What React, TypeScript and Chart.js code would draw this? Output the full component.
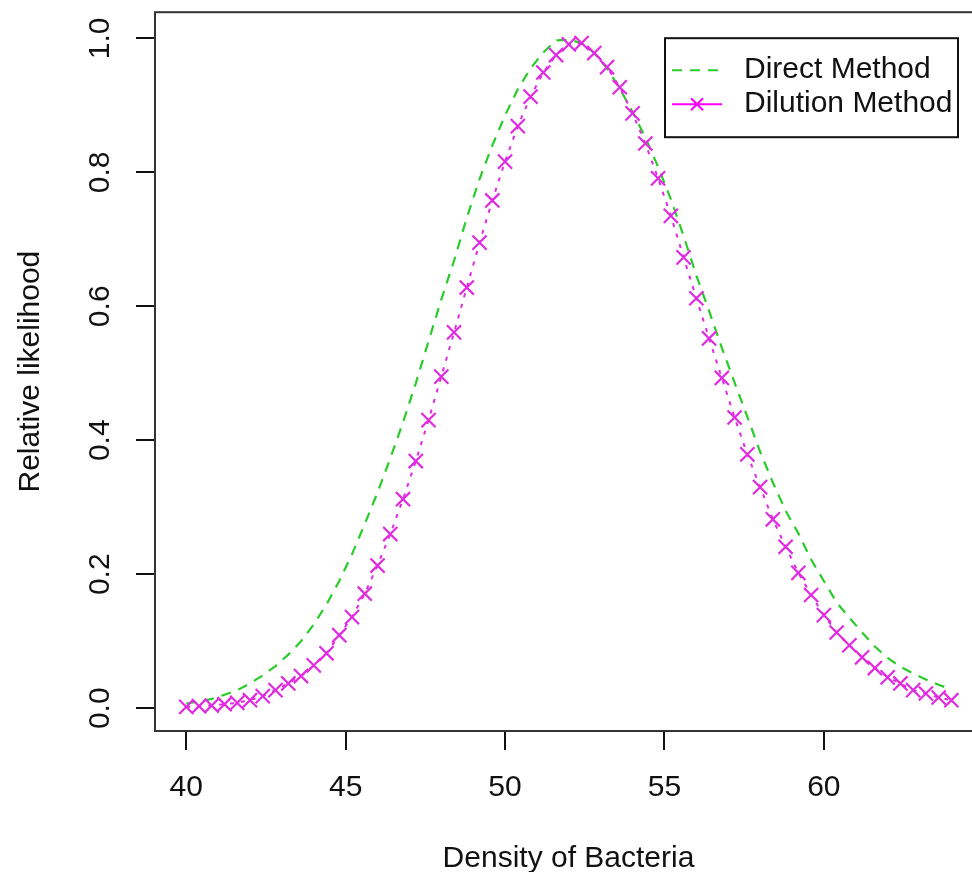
import React, { useEffect, useRef } from "react";
import { Chart, registerables } from "chart.js";

Chart.register(...registerables);

// ---- data ----
const densityX = [
  40.0, 40.4, 40.8, 41.2, 41.6, 42.0, 42.4, 42.8, 43.2, 43.6,
  44.0, 44.4, 44.8, 45.2, 45.6, 46.0, 46.4, 46.8, 47.2, 47.6,
  48.0, 48.4, 48.8, 49.2, 49.6, 50.0, 50.4, 50.8, 51.2, 51.6,
  52.0, 52.4, 52.8, 53.2, 53.6, 54.0, 54.4, 54.8, 55.2, 55.6,
  56.0, 56.4, 56.8, 57.2, 57.6, 58.0, 58.4, 58.8, 59.2, 59.6,
  60.0, 60.4, 60.8, 61.2, 61.6, 62.0, 62.4, 62.8, 63.2, 63.6,
  64.0,
];

const directLikelihood = [
  0.007, 0.010, 0.014, 0.020, 0.027, 0.037, 0.049, 0.063, 0.080, 0.100,
  0.125, 0.155, 0.190, 0.230, 0.275, 0.322, 0.373, 0.427, 0.485, 0.548,
  0.610, 0.668, 0.732, 0.790, 0.840, 0.885, 0.924, 0.955, 0.979, 0.997,
  0.998, 0.993, 0.978, 0.955, 0.925, 0.890, 0.852, 0.808, 0.760, 0.705,
  0.646, 0.593, 0.538, 0.486, 0.435, 0.383, 0.337, 0.295, 0.261, 0.222,
  0.190, 0.158, 0.135, 0.113, 0.092, 0.075, 0.062, 0.052, 0.043, 0.035,
  0.028,
];

const dilutionLikelihood = [
  0.002, 0.003, 0.004, 0.006, 0.008, 0.012, 0.018, 0.027, 0.037, 0.048,
  0.064, 0.082, 0.109, 0.136, 0.171, 0.213, 0.260, 0.312, 0.369, 0.430,
  0.495, 0.561, 0.628, 0.695, 0.758, 0.816, 0.869, 0.913, 0.949, 0.975,
  0.991, 0.993, 0.978, 0.957, 0.927, 0.888, 0.843, 0.791, 0.735, 0.673,
  0.612, 0.552, 0.493, 0.434, 0.379, 0.330, 0.282, 0.241, 0.202, 0.169,
  0.139, 0.113, 0.094, 0.076, 0.060, 0.046, 0.037, 0.027, 0.022, 0.016,
  0.012,
];

const xTickValues = [40, 45, 50, 55, 60];
const yTickValues = [0, 0.2, 0.4, 0.6, 0.8, 1.0];
const seriesLabels = ["Direct Method", "Dilution Method"];
const xTitle = "Density of Bacteria";
const yTitle = "Relative likelihood";

const GREEN = "#2ACC2A";
const MAGENTA = "#E02CE0";
const FONT = "'Liberation Sans', Arial, Helvetica, sans-serif";

const boxPlugin = {
  id: "rBox",
  afterDatasetsDraw(chart: any) {
    const { ctx, chartArea } = chart;
    ctx.save();
    ctx.strokeStyle = "#333";
    ctx.lineWidth = 2;
    ctx.strokeRect(chartArea.left, chartArea.top, chartArea.right - chartArea.left, chartArea.bottom - chartArea.top);
    ctx.restore();
  },
};

const legendPlugin = {
  id: "rLegend",
  afterDraw(chart: any) {
    const { ctx, chartArea } = chart;
    const w = 293;
    const h = 99;
    const right = chartArea.right - 24;
    const top = chartArea.top + 26;
    const left = right - w;
    ctx.save();
    ctx.fillStyle = "#fff";
    ctx.fillRect(left, top, w, h);
    ctx.strokeStyle = "#111";
    ctx.lineWidth = 2;
    ctx.strokeRect(left, top, w, h);
    chart.data.datasets.forEach((ds: any, i: number) => {
      const y = top + 32 + i * 34;
      ctx.strokeStyle = i === 0 ? ds.borderColor : "#FF00FF";
      ctx.lineWidth = 2;
      ctx.setLineDash(i === 0 ? [10, 8] : []);
      ctx.beginPath();
      ctx.moveTo(left + 7, y);
      ctx.lineTo(left + 57, y);
      ctx.stroke();
      ctx.setLineDash([]);
      if (ds.pointStyle === "crossRot") {
        const cx = left + 32;
        const r = 6;
        ctx.beginPath();
        ctx.moveTo(cx - r, y - r);
        ctx.lineTo(cx + r, y + r);
        ctx.moveTo(cx - r, y + r);
        ctx.lineTo(cx + r, y - r);
        ctx.stroke();
      }
      ctx.fillStyle = "#111";
      ctx.font = `30px ${FONT}`;
      ctx.textBaseline = "middle";
      ctx.textAlign = "left";
      ctx.fillText(ds.label, left + 79, y);
    });
    ctx.restore();
  },
};

export default function App() {
  const canvasRef = useRef<HTMLCanvasElement | null>(null);

  useEffect(() => {
    const canvas = canvasRef.current;
    if (!canvas) return;
    const chart = new Chart(canvas, {
      type: "line",
      data: {
        datasets: [
          {
            label: seriesLabels[0],
            data: densityX.map((x, i) => ({ x, y: directLikelihood[i] })),
            borderColor: GREEN,
            backgroundColor: GREEN,
            borderDash: [10, 8],
            borderWidth: 2.2,
            pointRadius: 0,
            fill: false,
            tension: 0,
            order: 1,
          },
          {
            label: seriesLabels[1],
            data: densityX.map((x, i) => ({ x, y: dilutionLikelihood[i] })),
            borderColor: MAGENTA,
            backgroundColor: MAGENTA,
            borderDash: [4, 7],
            borderWidth: 2,
            pointStyle: "crossRot",
            pointRadius: 10,
            pointBorderWidth: 2.2,
            pointBorderColor: MAGENTA,
            fill: false,
            tension: 0,
            order: 0,
          },
        ],
      },
      options: {
        animation: false,
        responsive: false,
        devicePixelRatio: 1,
        layout: { padding: { top: 12, right: 18, left: 0, bottom: 0 } },
        plugins: { legend: { display: false }, tooltip: { enabled: false } },
        scales: {
          x: {
            type: "linear",
            position: "bottom",
            min: 39.02,
            max: 64.96,
            afterBuildTicks: (s: any) => {
              s.ticks = xTickValues.map((v) => ({ value: v }));
            },
            afterFit: (s: any) => {
              s.height = 141;
              s.paddingLeft = 0;
              s.paddingRight = 0;
            },
            grid: { drawOnChartArea: false, drawTicks: true, tickLength: 19, color: "#111", lineWidth: 2 },
            border: { display: false },
            ticks: {
              font: { family: FONT, size: 30 },
              color: "#111",
              padding: 20,
              maxRotation: 0,
              minRotation: 0,
              callback: (v: any) => String(v),
            },
            title: {
              display: true,
              text: xTitle,
              color: "#111",
              font: { family: FONT, size: 30, lineHeight: 1 },
              padding: { top: 0, bottom: -2 },
            },
          },
          y: {
            type: "linear",
            position: "left",
            min: -0.034,
            max: 1.039,
            afterBuildTicks: (s: any) => {
              s.ticks = yTickValues.map((v) => ({ value: v }));
            },
            afterFit: (s: any) => {
              s.width = 155;
              s.paddingTop = 0;
              s.paddingBottom = 0;
            },
            grid: { drawOnChartArea: false, drawTicks: true, tickLength: 19, color: "#111", lineWidth: 2 },
            border: { display: false },
            ticks: {
              font: { family: FONT, size: 30 },
              color: "#111",
              padding: 14,
              minRotation: 90,
              maxRotation: 90,
              crossAlign: "center",
              callback: (v: any) => Number(v).toFixed(1),
            },
            title: {
              display: true,
              text: yTitle,
              color: "#111",
              font: { family: FONT, size: 30, lineHeight: 1 },
              padding: { top: 16, bottom: 0 },
            },
          },
        },
      },
      plugins: [boxPlugin, legendPlugin],
    } as any);
    return () => chart.destroy();
  }, []);

  return (
    <div
      style={{
        position: "fixed",
        left: 0,
        top: 0,
        width: 972,
        height: 872,
        overflow: "hidden",
        background: "#fff",
      }}
    >
      <canvas ref={canvasRef} width={1000} height={872} style={{ width: 1000, height: 872, display: "block" }} />
    </div>
  );
}
